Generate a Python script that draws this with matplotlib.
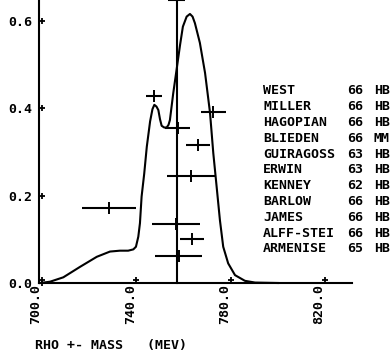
import numpy as np
import matplotlib
matplotlib.use('Agg')
import matplotlib.pyplot as plt
from matplotlib.transforms import ScaledTranslation

# curve: rho mass distribution
curve_mass = [699.2, 703.4, 709.0, 716.1, 723.2, 728.8, 733.0, 736.5, 738.7, 739.8,
              740.8, 741.5, 742.2, 743.3, 744.4, 745.8, 746.8, 747.6, 748.5, 749.3,
              750.0, 750.7, 751.8, 752.8, 753.6, 754.2, 755.6, 757.2, 758.5, 759.7,
              761.3, 762.7, 763.8, 764.8, 766.9, 769.1, 771.2, 772.6, 774.0, 775.4,
              776.8, 778.9, 781.8, 786.0, 790.3, 800.0]
curve_val = [0.0, 0.003, 0.013, 0.037, 0.060, 0.072, 0.074, 0.074, 0.077, 0.083,
             0.106, 0.137, 0.198, 0.250, 0.312, 0.370, 0.398, 0.408, 0.404, 0.396,
             0.375, 0.360, 0.356, 0.356, 0.362, 0.373, 0.434, 0.495, 0.545, 0.587,
             0.610, 0.616, 0.610, 0.595, 0.550, 0.481, 0.390, 0.297, 0.221, 0.144,
             0.083, 0.045, 0.018, 0.005, 0.001, 0.0]

# experiments
names = ['WEST', 'MILLER', 'HAGOPIAN', 'BLIEDEN', 'GUIRAGOSS', 'ERWIN',
         'KENNEY', 'BARLOW', 'JAMES', 'ALFF-STEI', 'ARMENISE']
years = ['66', '66', '66', '66', '63', '63', '62', '66', '66', '66', '65']
labs = ['HB', 'HB', 'HB', 'MM', 'HB', 'HB', 'HB', 'HB', 'HB', 'HB', 'HB']
pt_mass = [757.0, 747.6, 757.6, 772.5, 766.1, 763.1, 756.8, 763.6, 758.0, 728.4]
pt_err = [3.6, 3.4, 5.3, 5.3, 4.9, 10.2, 10.2, 5.1, 10.0, 11.3]
pt_val = [0.648, 0.428, 0.356, 0.391, 0.317, 0.244, 0.136, 0.101, 0.062, 0.171]

xticks = [700, 740, 780, 820]
yticks = [0.0, 0.2, 0.4, 0.6]

font = dict(family='DejaVu Sans Mono', weight='bold', size=9.5)

fig = plt.figure(figsize=(3.9, 3.59), dpi=100)
ax = fig.add_axes([39/390, 1 - 283/359, 313/390, 283/359])
ax.set_xlim(698.7, 831.4)
ax.set_ylim(0, 0.648)

for s in ['top', 'right']:
    ax.spines[s].set_visible(False)
for s in ['left', 'bottom']:
    ax.spines[s].set_linewidth(1.5)

ax.plot(curve_mass, curve_val, color='black', lw=1.5, clip_on=False,
        solid_joinstyle='round')

# points with mass errors
m = np.array(pt_mass)
ax.errorbar(m, pt_val, xerr=pt_err, fmt='|', color='black', ms=8, mew=1.4,
            elinewidth=1.5, capsize=0, clip_on=False)
# big vertical error on top point
ax.plot([m[0], m[0]], [0, pt_val[0]], color='black', lw=1.5, clip_on=False)

# tick crosses
ax.plot([700] * len(yticks), yticks, '+', color='black', ms=5, mew=1.3, clip_on=False)
up = ax.transData + ScaledTranslation(0, 3/100, fig.dpi_scale_trans)
ax.plot(xticks, [0] * len(xticks), '+', color='black', ms=5, mew=1.3,
        clip_on=False, transform=up)

ax.set_xticks(xticks)
ax.set_xticklabels(['%.1f' % t for t in xticks], rotation=90, **font)
ax.set_yticks(yticks)
ax.set_yticklabels(['%.1f' % t for t in yticks], **font)
ax.tick_params(length=0)
ax.tick_params(axis='x', pad=1)
ax.tick_params(axis='y', pad=5)
for lab in ax.get_xticklabels():
    lab.set_transform(lab.get_transform() + ScaledTranslation(-6/100, 0, fig.dpi_scale_trans))

fig.text(35/390, 1 - 345/359, 'RHO +- MASS   (MEV)', ha='left', va='center', **font)

for i in range(len(names)):
    y = 1 - (91 + 15.8 * i) / 359
    fig.text(263/390, y, names[i], ha='left', va='center', **font)
    fig.text(347/390, y, years[i], ha='left', va='center', **font)
    fig.text(374/390, y, labs[i], ha='left', va='center', **font)

fig.savefig('out.png', dpi=100)
